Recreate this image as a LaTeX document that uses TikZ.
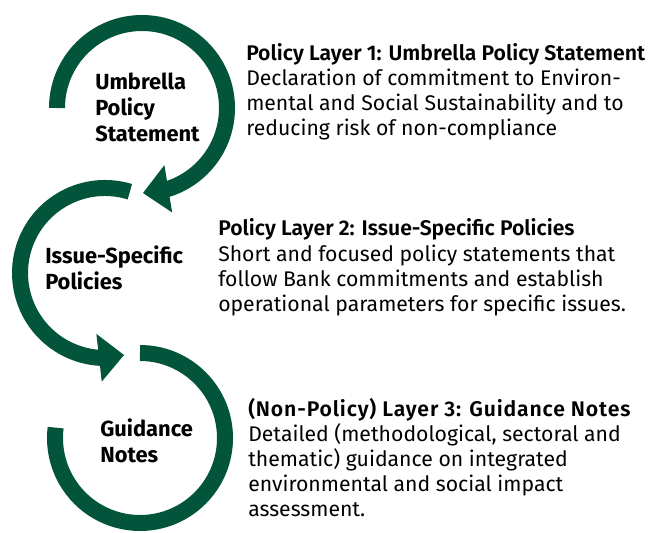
\documentclass[tikz,border=0pt]{standalone}
\usepackage{fontspec}
\setmainfont{Fira Sans}
\newfontfamily\headfont{Fira Sans SemiBold}
\newfontfamily\headfontwide{Fira Sans SemiBold}[LetterSpace=4]
\usetikzlibrary{calc}
\definecolor{ebrdgreen}{RGB}{2,84,58}
\begin{document}
\begin{tikzpicture}[x=0.75pt,y=0.75pt,
  band/.style={draw=ebrdgreen, line width=12pt},
  head/.style={fill=ebrdgreen},
  lbl/.style={font=\bfseries\fontsize{16.4}{19.5}\selectfont, align=left, anchor=base west, inner sep=0pt},
  desc/.style={font=\fontsize{15.9}{18.75}\selectfont, align=left, anchor=base west, inner sep=0pt}]
\useasboundingbox (0,0) rectangle (655,532);
% arc 1
\coordinate (a1s) at (57,424);
\coordinate (b1) at (168.27,343.16);
\coordinate (t1) at (143,339);
\draw[band] (a1s) arc[start angle=180, end angle=-76, radius=85];
\fill[head] (t1) -- ($(b1)!18pt!90:(t1)$) -- ($(b1)!18pt!-90:(t1)$) -- cycle;
% arc 2
\coordinate (a2s) at (129.85,340.29);
\coordinate (b2) at (99.07,174.21);
\coordinate (t2) at (124,177);
\draw[band] (a2s) arc[start angle=73, end angle=270, radius=85];
\fill[head] (t2) -- ($(b2)!18pt!90:(t2)$) -- ($(b2)!18pt!-90:(t2)$) -- cycle;
% arc 3
\coordinate (a3s) at (140,179);
\draw[band] (a3s) arc[start angle=90, end angle=-187, radius=85];
% left labels (anchor = baseline of last line)
\node[lbl] (l1) at (95,390) {Umbrella\\Policy\\Statement};
\node[lbl] (l2) at (45,243) {Issue-Specific\\Policies};
\node[lbl] (l3) at (100,70) {Guidance\\Notes};
% right texts (anchor = baseline of last line)
\node[desc] (d1) at (246,396) {{\headfont Policy Layer 1: Umbrella Policy Statement}\\Declaration of commitment to Environ-\\mental and Social Sustainability and to\\reducing risk of non-compliance};
\node[desc] (d2) at (218,221) {{\headfont Policy Layer 2: Issue-Specific Policies}\\Short and focused policy statements that\\follow Bank commitments and establish\\operational parameters for specific issues.};
\node[desc] (d3) at (248,16) {{\headfontwide (Non-Policy) Layer 3: Guidance Notes}\\Detailed (methodological, sectoral and\\thematic) guidance on integrated\\environmental and social impact\\assessment.};
\end{tikzpicture}
\end{document}
